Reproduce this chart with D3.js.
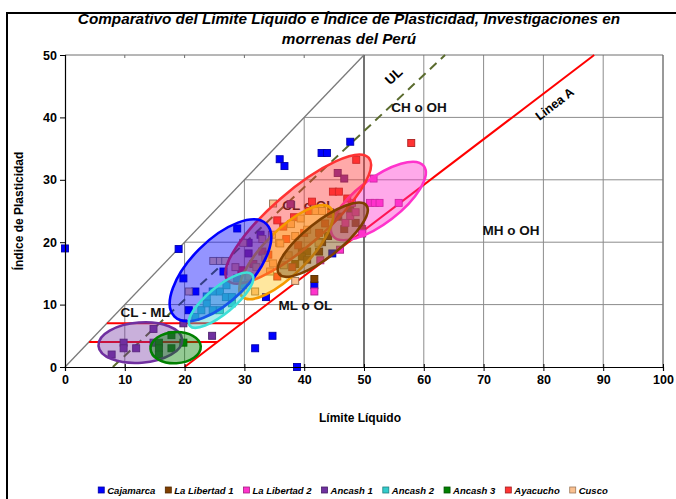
<!DOCTYPE html>
<html>
<head>
<meta charset="utf-8">
<script src="https://cdn.jsdelivr.net/npm/d3@7"></script>
<style>
  body { margin: 0; background: #fff; }
  svg { display: block; }
  .tick text { font-family: "Liberation Sans Narrow", "Arial Narrow", "Liberation Sans", sans-serif; font-weight: bold; font-size: 12.5px; }
</style>
</head>
<body>
<div id="chart"></div>
<script>
// Casagrande chart: Límite Líquido vs Índice de Plasticidad, morrenas del Perú

const seriesNames = ["Cajamarca", "La Libertad 1", "La Libertad 2", "Ancash 1", "Ancash 2", "Ancash 3", "Ayacucho", "Cusco"];
const seriesColors = ["#0000ff", "#7f3f00", "#ff33cc", "#7030a0", "#33cccc", "#008000", "#ff3333", "#fac090"];

// [LL, IP] pairs
const cajamarca = [[0,19],[19,18.9],[19.8,14.2],[21.8,12.1],[20.7,9.1],[26.5,15.3],[28.8,22.2],[33.6,11.2],[34.7,5],[31.8,3],[38.8,0],[35.9,33.3],[36.7,32.2],[42.9,34.3],[43.8,34.3],[47.7,36.1],[41.7,13.1],[44.7,18.2]];
const laLibertad1 = [[39.6,18.5],[40.5,18.5],[39.6,17.7],[40.5,17.2],[41.7,14.1],[46.7,22.1],[48.6,23.1],[49.7,22.1],[44,21],[42.5,18.5],[38.5,16.5],[45.7,24.1],[47.7,25.2],[43,20]];
const laLibertad2 = [[51.6,30.2],[51,26.3],[51.8,26.3],[52.6,26.3],[55.8,26.3],[48,26.3],[47.7,24.2],[46.9,23.1],[49.7,21.4],[41.7,12.1],[42.7,17.1],[46,18.8],[48.6,24.8]];
const ancash1 = [[14.8,6.1],[9.8,3.9],[9.8,3],[11.9,3],[7.8,2],[14.8,3.9],[19.8,7],[24.6,5],[30.7,19.9],[32.7,21.2],[37.7,26.1],[45.6,31.1],[46.7,30.2],[30.7,18.2]];
const ancash2 = [[21.8,8],[22.8,9.1],[23.7,10.2],[23.7,11.3],[24.7,9.1],[25.9,9.1],[25.9,12.1],[26.9,11.2],[27.9,10.2],[27.9,11.2],[27,13.1],[28.8,14.2],[24.7,12.1],[29.8,13.1]];
const ancash3 = [[15.7,3.9],[15.7,3],[15.7,2],[17.8,5.1],[17.8,3],[19.8,3.9]];
const ayacucho = [[57.9,35.9],[48.7,33.2],[44.8,28.1],[45.8,28.1],[47.2,27],[41.3,26.5],[40.8,25],[38.3,24],[36.5,22.5],[35.5,23.5],[40,21.5],[33,18.5],[31.5,16.5],[37,20.5],[39,19.5],[42.5,21.5],[43.5,23],[44.5,24.5],[34,18],[29.5,15.5],[38,16],[35.5,14.5]];
const cusco = [[24.8,17],[25.9,17],[26.8,17],[20.7,12.1],[29.8,19.9],[31.8,12.1],[34.8,26.2],[35.8,19.9],[37.8,22.9],[34.6,21.2],[36,19.8],[37.4,17.9],[34.8,16.6],[36.6,16.3],[34.3,15.3],[33.5,17.5],[32,16],[38.5,21],[39.4,23.8],[41.9,25],[43,25],[42.4,19.9],[40.5,22],[30.8,14.5],[38.5,13.8],[33,20.5],[28.5,16]];
const seriesPoints = [cajamarca, laLibertad1, laLibertad2, ancash1, ancash2, ancash3, ayacucho, cusco];

// envelopes: series index, centre [LL, IP], end of major axis [LL, IP], minor/major ratio (draw order)
const envelopeSeries = [2, 6, 7, 1, 0, 4, 3, 5];
const envelopeCentre = [[52.4,26.6],[39.0,23.7],[37.0,18.4],[43.1,20.4],[26.0,15.5],[26.1,10.7],[12.6,3.9],[18.5,3.1]];
const envelopeEnd    = [[60.0,32.2],[50.8,33.5],[44.4,25.5],[50.4,25.9],[33.7,22.9],[31.3,14.8],[19.6,4.4],[22.7,3.3]];
const envelopeRatio  = [0.39, 0.29, 0.35, 0.32, 0.46, 0.33, 0.48, 0.62];

// reference lines of the plasticity chart
const aLine = { x0: 20, slope: 0.73 };
const uLine = { x0: 8, slope: 0.9 };
const clmlLevels = [4, 7];

const xTicks = d3.range(0, 101, 10);
const yTicks = d3.range(0, 51, 10);

const zoneLabels = [
  { text: "CH o OH", ll: 59.2, ip: 40.8 },
  { text: "MH o OH", ll: 74.6, ip: 21.2 },
  { text: "ML o OL", ll: 40.2, ip: 9.1 },
  { text: "CL o OL", ll: 40.7, ip: 25.1 },
  { text: "CL - ML", ll: 13.4, ip: 8.0 }
];

const width = 676, height = 499;
const svg = d3.select("#chart").append("svg").attr("width", width).attr("height", height);
const x = d3.scaleLinear().domain([0, 100]).range([65, 663]);
const y = d3.scaleLinear().domain([0, 50]).range([367, 55]);

svg.append("rect").attr("width", width).attr("height", height).attr("fill", "#fff");
svg.append("rect").attr("x", 7).attr("y", 13).attr("width", 720).attr("height", 560)
  .attr("fill", "none").attr("stroke", "#000").attr("stroke-width", 2);

// title
const title = svg.append("text").attr("text-anchor", "middle")
  .attr("font-family", "Liberation Sans, Arial, sans-serif").attr("font-size", "15.3px")
  .attr("font-weight", "bold").attr("font-style", "italic");
title.append("tspan").attr("x", 349).attr("y", 24).text("Comparativo del Límite Líquido e Índice de Plasticidad, Investigaciones en");
title.append("tspan").attr("x", 349).attr("y", 44).text("morrenas del Perú");

// grid: only below the 45° line
const grid = svg.append("g").attr("stroke", "#8c8c8c").attr("stroke-width", 1);
xTicks.filter(v => v > 0 && v !== 50).forEach(v => {
  grid.append("line").attr("x1", x(v)).attr("x2", x(v)).attr("y1", y(0)).attr("y2", y(Math.min(v, 50)));
});
yTicks.filter(v => v > 0 && v < 50).forEach(v => {
  grid.append("line").attr("x1", x(v)).attr("x2", x(100)).attr("y1", y(v)).attr("y2", y(v));
});
grid.append("line").attr("x1", x(0)).attr("x2", x(100)).attr("y1", y(50)).attr("y2", y(50)).attr("stroke", "#6e6e6e");
grid.append("line").attr("x1", x(100)).attr("x2", x(100)).attr("y1", y(0)).attr("y2", y(50)).attr("stroke", "#6e6e6e");
grid.append("line").attr("x1", x(50)).attr("x2", x(50)).attr("y1", y(0)).attr("y2", y(50))
  .attr("stroke", "#505050").attr("stroke-width", 1.6);
// small ticks on the top edge
xTicks.filter(v => v > 0 && v < 50).forEach(v => {
  grid.append("line").attr("x1", x(v)).attr("x2", x(v)).attr("y1", y(50)).attr("y2", y(50) + 3).attr("stroke", "#6e6e6e");
});

// 45° line
svg.append("line").attr("x1", x(0)).attr("y1", y(0)).attr("x2", x(50)).attr("y2", y(50))
  .attr("stroke", "#7a7a7a").attr("stroke-width", 1.3);

// U line
svg.append("line")
  .attr("x1", x(uLine.x0)).attr("y1", y(0))
  .attr("x2", x(uLine.x0 + 50 / uLine.slope)).attr("y2", y(50))
  .attr("stroke", "#5a6b2e").attr("stroke-width", 2).attr("stroke-dasharray", "9,6");

// A line and CL-ML band
svg.append("line")
  .attr("x1", x(aLine.x0)).attr("y1", y(0))
  .attr("x2", x(aLine.x0 + 50 / aLine.slope)).attr("y2", y(50))
  .attr("stroke", "#ff0000").attr("stroke-width", 2);
clmlLevels.forEach(v => {
  svg.append("line").attr("x1", x(v)).attr("x2", x(aLine.x0 + v / aLine.slope))
    .attr("y1", y(v)).attr("y2", y(v)).attr("stroke", "#ff0000").attr("stroke-width", 2);
});

// zone labels
svg.append("g").selectAll("text").data(zoneLabels).join("text")
  .attr("x", d => x(d.ll)).attr("y", d => y(d.ip))
  .attr("text-anchor", "middle")
  .attr("font-family", "Liberation Sans, Arial, sans-serif").attr("font-size", "13.5px")
  .attr("font-weight", "bold").attr("fill", "#111")
  .text(d => d.text);

// rotated line labels
const uAngle = -Math.atan((y(0) - y(uLine.slope)) / (x(1) - x(0))) * 180 / Math.PI;
const aAngle = -Math.atan((y(0) - y(aLine.slope)) / (x(1) - x(0))) * 180 / Math.PI;
svg.append("text")
  .attr("transform", `translate(${x(55.5)},${y(46.1)}) rotate(${uAngle})`)
  .attr("text-anchor", "middle").attr("font-family", "Liberation Sans, Arial, sans-serif")
  .attr("font-size", "13.5px").attr("font-weight", "bold").text("UL");
svg.append("text")
  .attr("transform", `translate(${x(82.3)},${y(41.6)}) rotate(${aAngle})`)
  .attr("text-anchor", "middle").attr("font-family", "Liberation Sans, Arial, sans-serif")
  .attr("font-size", "12.5px").attr("font-weight", "bold").text("Linea A");

// data points
const half = 3.5;
seriesPoints.forEach((pts, i) => {
  const c = seriesColors[i];
  svg.append("g").selectAll("rect").data(pts).join("rect")
    .attr("x", d => x(d[0]) - half).attr("y", d => y(d[1]) - half)
    .attr("width", half * 2).attr("height", half * 2)
    .attr("fill", c)
    .attr("stroke", d3.color(c).darker(i === 7 ? 1.6 : 1.1))
    .attr("stroke-width", 0.9);
});

// envelopes
envelopeSeries.forEach((s, k) => {
  const c0 = envelopeCentre[k], c1 = envelopeEnd[k];
  const px = x(c0[0]), py = y(c0[1]);
  const dx = x(c1[0]) - px, dy = y(c1[1]) - py;
  const rx = Math.hypot(dx, dy);
  const ang = Math.atan2(dy, dx) * 180 / Math.PI;
  const col = seriesColors[s];
  let fill = col, stroke = col, op = 0.42;
  if (s === 7) { fill = "#ffc000"; stroke = "#f59a00"; op = 0.38; }
  if (s === 1) { fill = "#8a5a1e"; op = 0.5; }
  if (s === 4) { stroke = "#3ee0d8"; op = 0.42; }
  if (s === 3) { op = 0.38; }
  svg.append("ellipse")
    .attr("transform", `translate(${px},${py}) rotate(${ang})`)
    .attr("rx", rx).attr("ry", rx * envelopeRatio[k])
    .attr("fill", fill).attr("fill-opacity", op)
    .attr("stroke", stroke).attr("stroke-width", 2.6);
});

// axes
const xAxis = svg.append("g").attr("transform", `translate(0,${y(0)})`)
  .call(d3.axisBottom(x).tickValues(xTicks).tickSize(4).tickPadding(4));
xAxis.select(".domain").attr("stroke", "#000").attr("stroke-width", 1.2);
xAxis.selectAll(".tick line").attr("y1", -3);
const yAxis = svg.append("g").attr("transform", `translate(${x(0)},0)`)
  .call(d3.axisLeft(y).tickValues(yTicks).tickSize(5).tickPadding(3));
yAxis.select(".domain").attr("stroke", "#000").attr("stroke-width", 1.2);

svg.append("text").attr("x", 360).attr("y", 422).attr("text-anchor", "middle")
  .attr("font-family", "Liberation Sans, Arial, sans-serif").attr("font-size", "12px")
  .attr("font-weight", "bold").text("Límite Líquido");
svg.append("text").attr("transform", `translate(23,${y(25)}) rotate(-90)`).attr("text-anchor", "middle")
  .attr("font-family", "Liberation Sans, Arial, sans-serif").attr("font-size", "12px")
  .attr("font-weight", "bold").text("Índice de Plasticidad");

// legend
const legend = svg.append("g").attr("font-family", "Liberation Sans, Arial, sans-serif")
  .attr("font-size", "9.5px").attr("font-weight", "bold").attr("font-style", "italic");
let lx = 0;
seriesNames.forEach((name, i) => {
  const g = legend.append("g").attr("transform", `translate(${lx},0)`);
  g.append("rect").attr("x", 0).attr("y", -7).attr("width", 6).attr("height", 6)
    .attr("fill", seriesColors[i]).attr("stroke", d3.color(seriesColors[i]).darker(1.3)).attr("stroke-width", 0.8);
  const t = g.append("text").attr("x", 9).attr("y", 0).text(name);
  lx += 9 + t.node().getComputedTextLength() + 10;
});
const legendWidth = lx - 10;
legend.attr("transform", `translate(${353 - legendWidth / 2},494)`);
</script>
</body>
</html>
